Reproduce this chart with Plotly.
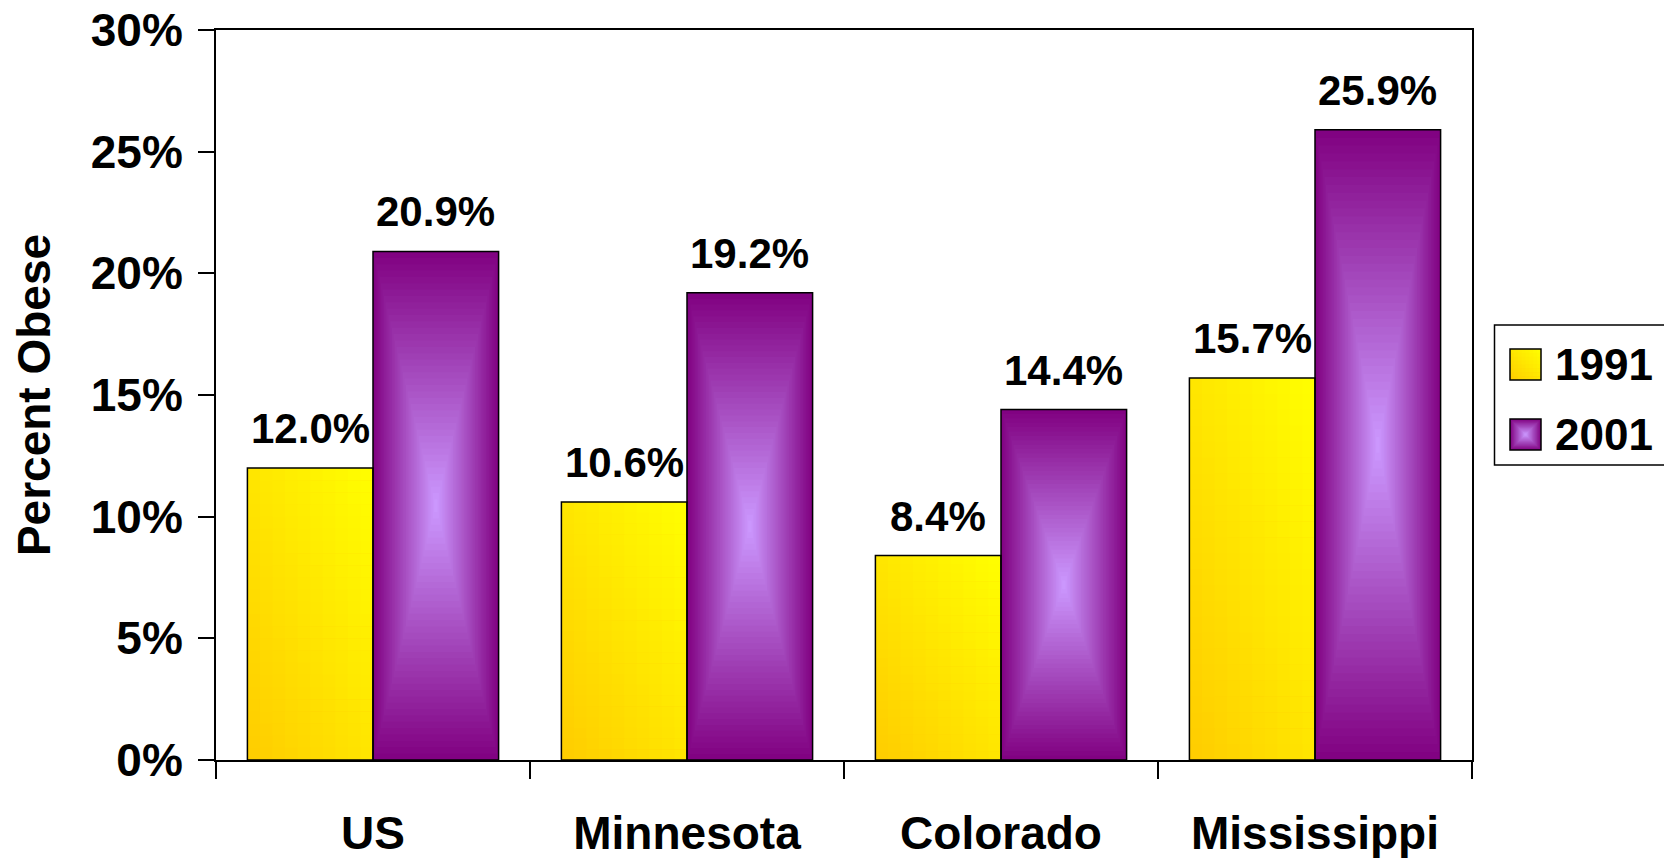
import plotly.graph_objects as go

# ---------------- data ----------------
categories = ["US", "Minnesota", "Colorado", "Mississippi"]
series_names = ["1991", "2001"]
values_1991 = [12.0, 10.6, 8.4, 15.7]
values_2001 = [20.9, 19.2, 14.4, 25.9]
y_tick_values = [0, 5, 10, 15, 20, 25, 30]
y_tick_labels = ["0%", "5%", "10%", "15%", "20%", "25%", "30%"]
y_title = "Percent Obese"

# ---------------- style ----------------
W, H = 1664, 858
ML, MR, MT, MB = 216, 192, 30, 98
FONT = "Liberation Sans, Arial, sans-serif"
YEL_OUT, YEL_IN = (255, 204, 0), (255, 255, 0)
PUR_OUT, PUR_IN = (128, 0, 128), (204, 153, 255)
BAR_W = 0.4
OFF_1991, OFF_2001 = -0.4, 0.0


def lerp(c0, c1, t):
    return "rgb(%d,%d,%d)" % tuple(round(a + (b - a) * t) for a, b in zip(c0, c1))


fig = go.Figure()

# 1991 bars: diagonal gradient (gold bottom-left -> yellow top-right), built from overlapping tiles
NC, NR = 10, 24
for r in range(NR):
    for c in range(NC):
        u0, w0 = c / NC, r / NR
        t = ((c + 0.5) / NC + (r + 0.5) / NR) / 2
        fig.add_trace(go.Bar(
            x=categories,
            y=[v * (1 - w0) for v in values_1991],
            base=[v * w0 for v in values_1991],
            width=BAR_W * (1 - u0),
            offset=OFF_1991 + BAR_W * u0,
            marker=dict(color=lerp(YEL_OUT, YEL_IN, t), line=dict(width=0)),
            hoverinfo="skip", showlegend=False,
        ))

# 2001 bars: rectangular "from centre" gradient (purple edges -> lavender centre)
NP = 40
for k in range(NP):
    t = k / NP
    fig.add_trace(go.Bar(
        x=categories,
        y=[v * (1 - t) for v in values_2001],
        base=[v * t / 2 for v in values_2001],
        width=BAR_W * (1 - t),
        offset=OFF_2001 + BAR_W * t / 2,
        marker=dict(color=lerp(PUR_OUT, PUR_IN, (k + 0.5) / NP), line=dict(width=0)),
        hoverinfo="skip", showlegend=False,
    ))

# outlines
for name, vals, off in [(series_names[0], values_1991, OFF_1991), (series_names[1], values_2001, OFF_2001)]:
    fig.add_trace(go.Bar(
        x=categories, y=vals, width=BAR_W, offset=off, name=name,
        marker=dict(color="rgba(0,0,0,0)", line=dict(color="black", width=1.5)),
        hovertemplate="%{x}: %{y:.1f}%<extra>" + name + "</extra>",
        showlegend=False,
    ))

# data labels
annotations = []
for vals, shift in [(values_1991, -0.2), (values_2001, 0.2)]:
    for i, v in enumerate(vals):
        annotations.append(dict(
            x=i + shift, y=v, xref="x", yref="y", text=f"{v:.1f}%",
            showarrow=False, yanchor="bottom", yshift=14,
            font=dict(family=FONT, size=42, color="black", weight="bold"),
        ))

# custom legend (large swatches)
PW, PH = W - ML - MR, H - MT - MB


def px_x(p):
    return (p - ML) / PW


def px_y(p):
    return (H - MB - p) / PH


shapes = [dict(type="rect", xref="paper", yref="paper",
               x0=px_x(1494.5), x1=px_x(1720), y0=px_y(465), y1=px_y(325),
               line=dict(color="black", width=1.5), fillcolor="white", layer="above")]

SW_X0, SW_X1 = 1510, 1541
sw_rows = [(349, 380), (419, 450)]
# 1991 swatch
G = 8
y_top, y_bot = sw_rows[0]
for r in range(G):
    for c in range(G):
        t = ((c + 0.5) / G + (r + 0.5) / G) / 2
        x0 = SW_X0 + (SW_X1 - SW_X0) * c / G
        yb = y_bot - (y_bot - y_top) * r / G
        shapes.append(dict(type="rect", xref="paper", yref="paper",
                           x0=px_x(x0), x1=px_x(SW_X1), y0=px_y(yb), y1=px_y(y_top),
                           line=dict(width=0), fillcolor=lerp(YEL_OUT, YEL_IN, t), layer="above"))
# 2001 swatch
y_top, y_bot = sw_rows[1]
G2 = 12
for k in range(G2):
    t = k / G2
    dx = (SW_X1 - SW_X0) * t / 2
    dy = (y_bot - y_top) * t / 2
    shapes.append(dict(type="rect", xref="paper", yref="paper",
                       x0=px_x(SW_X0 + dx), x1=px_x(SW_X1 - dx), y0=px_y(y_bot - dy), y1=px_y(y_top + dy),
                       line=dict(width=0), fillcolor=lerp(PUR_OUT, PUR_IN, (k + 0.5) / G2), layer="above"))
for (y_top, y_bot), name in zip(sw_rows, series_names):
    shapes.append(dict(type="rect", xref="paper", yref="paper",
                       x0=px_x(SW_X0), x1=px_x(SW_X1), y0=px_y(y_bot), y1=px_y(y_top),
                       line=dict(color="black", width=1.5), fillcolor="rgba(0,0,0,0)", layer="above"))
    annotations.append(dict(
        x=px_x(1553), y=px_y((y_top + y_bot) / 2), xref="paper", yref="paper",
        text=name, showarrow=False, xanchor="left", yanchor="middle",
        font=dict(family=FONT, size=44, color="black", weight="bold"),
    ))

fig.update_layout(
    width=W, height=H,
    margin=dict(l=ML, r=MR, t=MT, b=MB, autoexpand=False),
    paper_bgcolor="white", plot_bgcolor="white",
    barmode="overlay",
    showlegend=False,
    annotations=annotations,
    shapes=shapes,
    font=dict(family=FONT, color="black"),
    xaxis=dict(
        type="category", categoryorder="array", categoryarray=categories,
        range=[-0.5, len(categories) - 0.5],
        showline=True, linecolor="black", linewidth=2, mirror=True,
        ticks="outside", tickson="boundaries", ticklen=17, tickwidth=2, tickcolor="black",
        tickfont=dict(family=FONT, size=46, color="black", weight="bold"),
        ticklabelstandoff=32,
        showgrid=False, zeroline=False, automargin=False,
    ),
    yaxis=dict(
        range=[0, 30], tickvals=y_tick_values, ticktext=y_tick_labels,
        showline=True, linecolor="black", linewidth=2, mirror=True,
        ticks="outside", ticklen=16, tickwidth=2, tickcolor="black",
        tickfont=dict(family=FONT, size=46, color="black", weight="bold"),
        ticklabelstandoff=6,
        showgrid=False, zeroline=False, automargin=False,
        title=dict(text=y_title, standoff=26,
                   font=dict(family=FONT, size=46, color="black", weight="bold")),
    ),
)

fig.write_html("out.html",
               config={"displayModeBar": False},
               post_script="document.body.style.margin='0';document.body.style.overflow='hidden';")
